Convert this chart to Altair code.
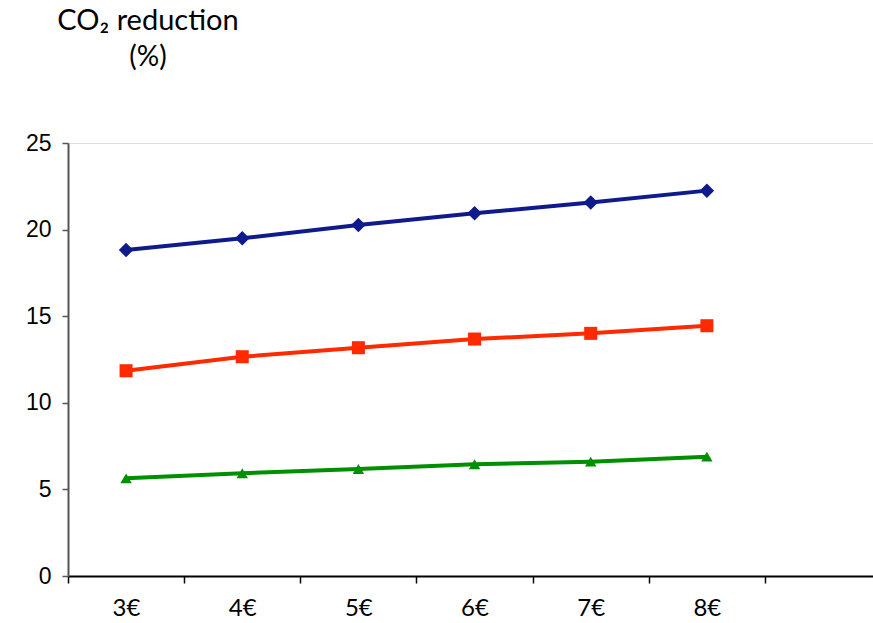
import altair as alt
import pandas as pd

# Carbon tax level (€) and CO2 reduction (%) for three scenarios
prices = [3, 4, 5, 6, 7, 8]
high = [18.82, 19.50, 20.27, 20.94, 21.57, 22.25]
mid = [11.85, 12.66, 13.18, 13.68, 14.01, 14.45]
low = [5.64, 5.93, 6.18, 6.45, 6.60, 6.89]

series_names = ["high", "mid", "low"]
series_colors = ["#0f1a8c", "#ff2a00", "#008f00"]
series_shapes = ["diamond", "square", "triangle-up"]
series_sizes = [210, 130, 120]

rows = []
for name, values in zip(series_names, [high, mid, low]):
    for p, v in zip(prices, values):
        rows.append({"price": p, "reduction": v, "series": name})
df = pd.DataFrame(rows)

tick_edges = [2.5, 3.5, 4.5, 5.5, 6.5, 7.5, 8.5]

x_enc = alt.X(
    "price:Q",
    scale=alt.Scale(domain=[2.5, 9.43], nice=False, zero=False),
    axis=alt.Axis(
        values=tick_edges,
        labelExpr="datum.value < 8 ? format(datum.value + 0.5, 'd') + '€' : ''",
        labelOffset=58,
        labelAlign="center",
        labelFont="Lato",
        labelFontSize=24,
        labelColor="#000000",
        labelPadding=13,
        tickSize=7,
        tickColor="#000000",
        tickWidth=1.5,
        domainColor="#000000",
        domainWidth=2,
        grid=False,
        title=None,
    ),
)
y_enc = alt.Y(
    "reduction:Q",
    scale=alt.Scale(domain=[0, 25], nice=False),
    axis=alt.Axis(
        values=[0, 5, 10, 15, 20, 25],
        labelFont="Liberation Sans",
        labelFontSize=23,
        labelColor="#000000",
        labelPadding=11,
        tickSize=6,
        tickColor="#555555",
        tickWidth=1.5,
        domainColor="#555555",
        domainWidth=2,
        grid=False,
        title=None,
    ),
)
color_enc = alt.Color(
    "series:N",
    scale=alt.Scale(domain=series_names, range=series_colors),
    legend=None,
)

lines = alt.Chart(df).mark_line(strokeWidth=4).encode(
    x=x_enc, y=y_enc, color=color_enc, detail="series:N"
)
points = alt.Chart(df).mark_point(filled=True, opacity=1).encode(
    x=x_enc,
    y=y_enc,
    color=color_enc,
    shape=alt.Shape(
        "series:N",
        scale=alt.Scale(domain=series_names, range=series_shapes),
        legend=None,
    ),
    size=alt.Size(
        "series:N",
        scale=alt.Scale(domain=series_names, range=series_sizes),
        legend=None,
    ),
)

chart = (
    alt.layer(lines, points)
    .properties(
        width=805,
        height=433,
        autosize=alt.AutoSizeParams(type="none"),
        padding={"left": 68, "top": 143, "right": 0, "bottom": 47},
        title=alt.TitleParams(
            text="CO₂ reduction",
            subtitle="(%)",
            anchor="start",
            frame="group",
            align="center",
            dx=80,
            offset=60,
            font="Lato",
            fontSize=29,
            fontWeight="normal",
            color="#000000",
            subtitleFont="Lato",
            subtitleFontSize=28,
            subtitleColor="#000000",
            subtitlePadding=8,
        ),
    )
    .configure_view(stroke=None)
    .configure(background="#ffffff")
)

chart.save("out.html", embed_options={"renderer": "svg", "actions": False})
